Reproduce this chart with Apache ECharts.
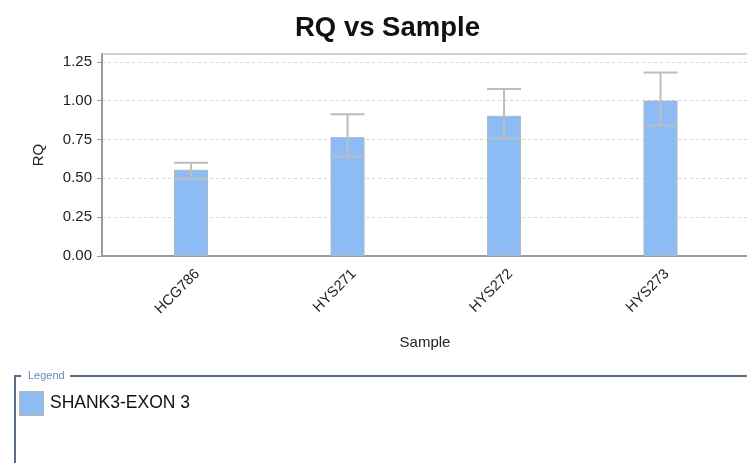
<!DOCTYPE html>
<html>
<head>
<meta charset="utf-8">
<script src="https://cdn.jsdelivr.net/npm/echarts@6/dist/echarts.min.js"></script>
<style>
  html, body { margin: 0; padding: 0; background: #fff; }
  #chart { width: 747px; height: 463px; }
</style>
</head>
<body>
<div id="chart"></div>
<script>
// Samples and relative quantity (RQ) with error range
const samples = ['HCG786', 'HYS271', 'HYS272', 'HYS273'];
const rq = [0.555, 0.765, 0.902, 1.0];
const rqMin = [0.495, 0.64, 0.756, 0.84];
const rqMax = [0.60, 0.913, 1.074, 1.181];
const yTicks = [0, 0.25, 0.5, 0.75, 1.0, 1.25];
const targetName = 'SHANK3-EXON 3';

const barColor = '#8dbcf4';
const errColor = '#bdbdbd';
const barW = 34;
const font = 'Liberation Sans, Arial, sans-serif';

const chart = echarts.init(document.getElementById('chart'), null, { renderer: 'canvas' });

const barData = rq.map((v, i) => [i, v]);
const errData = rq.map((v, i) => [i, rqMin[i], rqMax[i]]);
const samplePos = samples.map((s, i) => i);

chart.setOption({
  animation: false,
  textStyle: { fontFamily: font },
  title: {
    text: 'RQ vs Sample',
    left: 290,
    top: 9,
    textStyle: { fontSize: 27.5, fontWeight: 'bold', color: '#111', fontFamily: font }
  },
  grid: {
    left: 102,
    top: 54,
    width: 700,
    height: 202,
    outerBoundsMode: 'none',
    containLabel: false,
    show: true,
    borderColor: '#cfcfcf',
    borderWidth: 2,
    backgroundColor: 'transparent'
  },
  xAxis: {
    type: 'value',
    min: -0.569,
    max: 3.904,
    axisLine: { show: true, onZero: false, lineStyle: { color: '#9a9a9a', width: 2 } },
    axisTick: { show: false, customValues: samplePos },
    splitLine: { show: false },
    axisLabel: {
      customValues: samplePos,
      rotate: 45,
      fontSize: 14.5,
      color: '#222',
      margin: 22,
      padding: [0, -9, 0, 0],
      formatter: v => samples[Math.round(v)] || ''
    }
  },
  yAxis: {
    type: 'value',
    min: 0,
    max: 1.3,
    interval: 0.25,
    name: 'RQ',
    nameLocation: 'middle',
    nameGap: 56,
    nameRotate: 90,
    nameTextStyle: { fontSize: 15, color: '#222' },
    axisLine: { show: true, onZero: false, lineStyle: { color: '#9a9a9a', width: 2 } },
    axisTick: { show: true, length: 5, lineStyle: { color: '#9a9a9a' } },
    axisLabel: {
      fontSize: 15,
      color: '#222',
      margin: 10,
      showMaxLabel: false,
      formatter: v => yTicks.includes(Math.round(v * 100) / 100) ? v.toFixed(2) : ''
    },
    splitLine: { show: true, lineStyle: { color: '#d4d4d4', type: [3, 3], width: 1 } }
  },
  legend: {
    left: 19,
    top: 391,
    padding: 0,
    icon: 'rect',
    itemWidth: 23,
    itemHeight: 23,
    itemGap: 6,
    textStyle: { fontSize: 17.5, color: '#111', padding: [0, 0, 0, 2] },
    data: [targetName]
  },
  series: [
    {
      name: targetName,
      type: 'bar',
      barWidth: barW,
      data: barData,
      itemStyle: { color: barColor, borderColor: '#a9b8c8', borderWidth: 1 },
      z: 2
    },
    {
      name: 'error',
      type: 'custom',
      data: errData,
      z: 3,
      renderItem: function (params, api) {
        const x = api.value(0);
        const lo = api.coord([x, api.value(1)]);
        const hi = api.coord([x, api.value(2)]);
        const half = barW / 2;
        const style = { stroke: errColor, lineWidth: 2 };
        return {
          type: 'group',
          children: [
            { type: 'line', shape: { x1: lo[0], y1: lo[1], x2: hi[0], y2: hi[1] }, style: style },
            { type: 'line', shape: { x1: hi[0] - half, y1: hi[1], x2: hi[0] + half, y2: hi[1] }, style: style },
            { type: 'line', shape: { x1: lo[0] - half, y1: lo[1], x2: lo[0] + half, y2: lo[1] }, style: style }
          ]
        };
      }
    }
  ],
  graphic: [
    // x-axis title, centred under the visible plot width
    { type: 'text', x: 425, y: 343, style: { text: 'Sample', fontSize: 15, fill: '#222', fontFamily: font, align: 'center', verticalAlign: 'middle' } },
    // legend frame
    { type: 'polyline', shape: { points: [[21, 376], [15, 376], [15, 470]] }, style: { stroke: '#5c6f86', lineWidth: 2, fill: null } },
    { type: 'line', shape: { x1: 70, y1: 376, x2: 760, y2: 376 }, style: { stroke: '#5c6f86', lineWidth: 2 } },
    { type: 'text', left: 28, top: 370, style: { text: 'Legend', fontSize: 11, fill: '#6b8bb5', fontFamily: font } }
  ]
});
</script>
</body>
</html>
